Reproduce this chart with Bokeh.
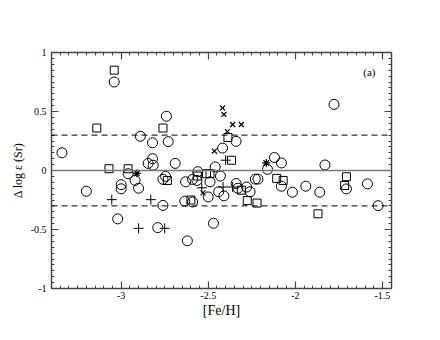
from bokeh.plotting import figure
from bokeh.models import Range1d, LinearAxis, FixedTicker, Span, Label
from bokeh.embed import file_html
from bokeh.resources import INLINE

# Data
circ_x = [-3.34, -3.04, -2.74, -2.89, -2.82, -2.73, -2.82, -2.845, -2.816, -2.69,
          -2.56, -2.46, -2.418, -2.34, -1.778, -2.12, -2.08, -1.83, -2.16,
          -3.2, -2.96, -2.92, -3.0, -3.0, -2.90, -2.745, -2.76, -2.76, -3.02, -2.79,
          -2.62, -2.63, -2.635, -2.59, -2.59, -2.565, -2.49, -2.5, -2.44, -2.43,
          -2.47, -2.41, -2.34, -2.33, -2.28, -2.26, -2.23, -2.215, -2.08, -2.017,
          -1.94, -1.86, -1.707, -1.586, -1.525]
circ_y = [0.15, 0.75, 0.46, 0.29, 0.235, 0.245, 0.10, 0.06, 0.045, 0.06,
          -0.01, 0.03, 0.19, 0.247, 0.56, 0.11, 0.064, 0.047, 0.01,
          -0.176, -0.027, -0.084, -0.12, -0.155, -0.15, -0.05, -0.075, -0.296, -0.41, -0.484,
          -0.596, -0.096, -0.26, -0.267, -0.076, -0.084, -0.096, -0.224, -0.18, -0.047,
          -0.447, -0.215, -0.11, -0.15, -0.14, -0.18, -0.073, -0.073, -0.133, -0.184,
          -0.133, -0.184, -0.156, -0.113, -0.298]

sq_x = [-3.04, -3.14, -2.76, -3.07, -2.96, -2.387, -2.366, -2.735, -2.6, -2.51,
        -2.49, -2.31, -2.276, -2.22, -2.107, -2.07, -1.87, -1.707, -1.717, -2.563]
sq_y = [0.85, 0.36, 0.36, 0.015, 0.015, 0.28, 0.087, -0.085, -0.25, -0.027,
        -0.027, -0.167, -0.255, -0.276, -0.067, -0.084, -0.367, -0.053, -0.127, -0.047]

plus_x = [-2.40, -3.054, -2.83, -2.90, -2.75, -2.537, -2.415, -2.36]
plus_y = [0.087, -0.247, -0.247, -0.49, -0.49, -0.147, -0.14, -0.14]

cross_x = [-2.418, -2.41, -2.36, -2.31, -2.39, -2.465, -2.53]
cross_y = [0.53, 0.475, 0.39, 0.39, 0.33, 0.165, -0.19]

ast_x = [-2.91, -2.167]
ast_y = [-0.024, 0.064]

x_ticks = [-3, -2.5, -2, -1.5]
x_labels = {-3: "-3", -2.5: "-2.5", -2: "-2", -1.5: "-1.5"}
y_ticks = [-1, -0.5, 0, 0.5, 1]
y_labels = {-1: "-1", -0.5: "-0.5", 0: "0", 0.5: "0.5", 1: "1"}
x_minor = [round(-3.4 + 0.05 * i, 2) for i in range(40)]
y_minor = [round(-1 + 0.05 * i, 2) for i in range(41)]

FONT = "Liberation Serif"
AX = "#444444"

p = figure(width=430, height=328, output_backend="svg", toolbar_location=None,
           x_range=Range1d(-3.40, -1.448), y_range=Range1d(-1, 1),
           min_border_left=51, min_border_right=39, min_border_top=52, min_border_bottom=40,
           x_axis_location=None, y_axis_location=None)
p.grid.visible = False
p.outline_line_color = None
p.background_fill_color = "white"
p.border_fill_color = "white"


def style_axis(ax, ticks, minor, labels, show_labels):
    ax.ticker = FixedTicker(ticks=ticks, minor_ticks=minor)
    ax.major_label_overrides = labels
    ax.axis_line_color = AX
    ax.axis_line_width = 1.5
    ax.major_tick_line_color = AX
    ax.minor_tick_line_color = AX
    ax.major_tick_in = 7
    ax.major_tick_out = 0
    ax.minor_tick_in = 3
    ax.minor_tick_out = 0
    ax.major_tick_line_width = 1.2
    ax.minor_tick_line_width = 1
    ax.major_label_text_font = FONT
    ax.major_label_text_font_size = "10px"
    ax.major_label_text_color = "black"
    ax.axis_label_text_font = FONT
    ax.axis_label_text_font_style = "normal"
    ax.axis_label_text_color = "black"
    if not show_labels:
        ax.major_label_text_alpha = 0
        ax.major_label_text_font_size = "1px"


xb = LinearAxis(axis_label="[Fe/H]")
style_axis(xb, x_ticks, x_minor, x_labels, True)
xb.axis_label_text_font_size = "14px"
xb.axis_label_standoff = 1
xb.major_label_standoff = 3
p.add_layout(xb, "below")

xt = LinearAxis()
style_axis(xt, x_ticks, x_minor, x_labels, False)
p.add_layout(xt, "above")

yl = LinearAxis(axis_label="Δ log ε (Sr)")
style_axis(yl, y_ticks, y_minor, y_labels, True)
yl.axis_label_text_font_size = "12px"
yl.axis_label_standoff = 3
yl.major_label_standoff = 5
p.add_layout(yl, "left")

yr = LinearAxis()
style_axis(yr, y_ticks, y_minor, y_labels, False)
p.add_layout(yr, "right")

p.add_layout(Span(location=0, dimension="width", line_color="#777777", line_width=1.5))
p.add_layout(Span(location=0.3, dimension="width", line_color="black", line_width=1,
                  line_dash="6 4"))
p.add_layout(Span(location=-0.3, dimension="width", line_color="black", line_width=1,
                  line_dash="6 4"))

p.scatter(circ_x, circ_y, marker="circle", size=10, fill_color=None,
          line_color="black", line_width=1)
p.scatter(sq_x, sq_y, marker="square", size=8, fill_color=None,
          line_color="black", line_width=1)
p.scatter(plus_x, plus_y, marker="cross", size=10, line_color="black", line_width=1)
p.scatter(cross_x, cross_y, marker="x", size=7, line_color="black", line_width=1.2)
p.scatter(ast_x, ast_y, marker="asterisk", size=8, line_color="black", line_width=1.2)

p.add_layout(Label(x=-1.575, y=0.835, text="(a)", text_font=FONT, text_font_size="11px",
                   text_align="center", text_baseline="middle", text_color="black"))

open("out.html", "w").write(file_html(p, INLINE))
